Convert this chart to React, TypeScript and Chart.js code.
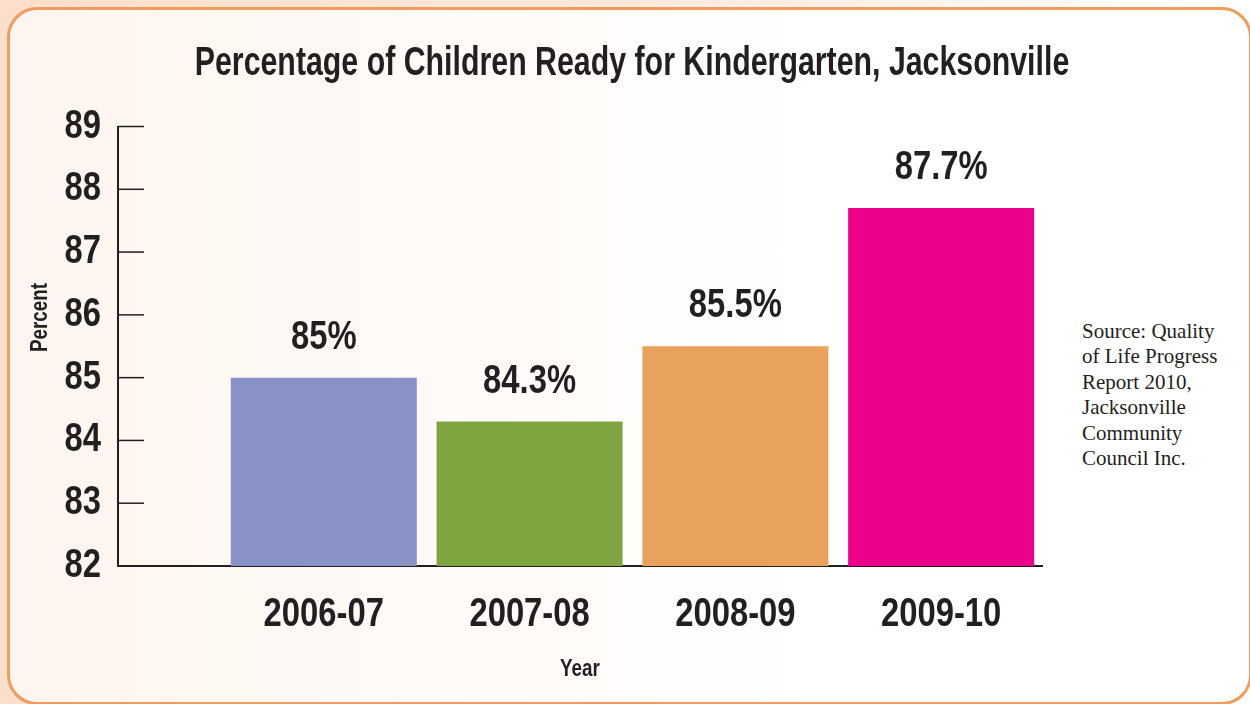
import React, { useEffect, useRef } from 'react';
import { Chart, registerables } from 'chart.js';

Chart.register(...registerables);

const categories = ['2006-07', '2007-08', '2008-09', '2009-10'];
const values = [85, 84.3, 85.5, 87.7];
const barColors = ['#8892c6', '#7fa540', '#e9a25b', '#ec008c'];
const yTicks = [82, 83, 84, 85, 86, 87, 88, 89];
const titleText = 'Percentage of Children Ready for Kindergarten, Jacksonville';
const xTitle = 'Year';
const yTitle = 'Percent';
const sourceLines = ['Source: Quality', 'of Life Progress', 'Report 2010,', 'Jacksonville', 'Community', 'Council Inc.'];

const FONT = "'Liberation Sans', Arial, sans-serif";
const INK = '#231f20';

// horizontal compression applied to text to mimic a condensed typeface
let stretch = 0.82;

function condenseText(ctx: any) {
  if (ctx.__condensed) return;
  ctx.__condensed = true;
  const orig = ctx.fillText.bind(ctx);
  ctx.fillText = (text: string, x: number, y: number, maxWidth?: number) => {
    ctx.save();
    ctx.translate(x, y);
    ctx.scale(stretch, 1);
    if (maxWidth === undefined) orig(text, 0, 0);
    else orig(text, 0, 0, maxWidth / stretch);
    ctx.restore();
  };
}

const decorPlugin = {
  id: 'decor',
  afterDraw(chart: any) {
    const { ctx, chartArea, scales } = chart;
    const y = scales.y;
    ctx.save();
    // y tick marks drawn inward
    ctx.strokeStyle = INK;
    ctx.lineWidth = 1.5;
    yTicks.forEach((v) => {
      if (v === y.min) return;
      const py = y.getPixelForValue(v);
      ctx.beginPath();
      ctx.moveTo(chartArea.left, py);
      ctx.lineTo(chartArea.left + 26, py);
      ctx.stroke();
    });
    // value labels above bars
    const meta = chart.getDatasetMeta(0);
    ctx.fillStyle = INK;
    ctx.font = `bold 40px ${FONT}`;
    ctx.textAlign = 'center';
    ctx.textBaseline = 'alphabetic';
    meta.data.forEach((bar: any, i: number) => {
      ctx.fillText(`${values[i]}%`, bar.x, bar.y - 29);
    });
    // main title
    stretch = 0.758;
    ctx.font = `bold 40px ${FONT}`;
    ctx.textBaseline = 'middle';
    ctx.fillText(titleText, 632, 64);
    stretch = 0.82;
    // y axis title
    ctx.translate(41, 317.5);
    ctx.rotate(-Math.PI / 2);
    ctx.font = `bold 23px ${FONT}`;
    ctx.fillText(yTitle, 0, 0);
    ctx.restore();
  },
};

export default function App() {
  const canvasRef = useRef<HTMLCanvasElement | null>(null);

  useEffect(() => {
    const canvas = canvasRef.current;
    if (!canvas) return;
    condenseText(canvas.getContext('2d'));
    const chart = new Chart(canvas, {
      type: 'bar',
      data: {
        datasets: [
          {
            data: values.map((v, i) => ({ x: i, y: v })),
            backgroundColor: barColors,
            borderWidth: 0,
            categoryPercentage: 0.904,
            barPercentage: 1,
          } as any,
        ],
      },
      options: {
        animation: false,
        responsive: true,
        maintainAspectRatio: false,
        layout: { padding: { top: 126.5, right: 208, bottom: 0, left: 0 } },
        plugins: {
          legend: { display: false },
          tooltip: { enabled: false },
          title: { display: false },
        },
        scales: {
          x: {
            type: 'linear',
            min: -1,
            max: 3.49,
            offset: false,
            z: 1,
            afterBuildTicks: (s: any) => {
              s.ticks = categories.map((_, i) => ({ value: i }));
            },
            afterFit: (s: any) => {
              s.height = 138;
            },
            ticks: {
              callback: (v: any) => categories[v] ?? '',
              font: { family: FONT, size: 40, weight: 'bold' },
              color: INK,
              padding: 25,
              maxRotation: 0,
              autoSkip: false,
            },
            grid: { drawOnChartArea: false, drawTicks: false },
            border: { color: INK, width: 2 },
            title: {
              display: true,
              text: xTitle,
              font: { family: FONT, size: 23, weight: 'bold' },
              color: INK,
              padding: { top: 0, bottom: 21 },
            },
          },
          y: {
            min: 82,
            max: 89,
            beginAtZero: false,
            afterBuildTicks: (s: any) => {
              s.ticks = yTicks.map((v) => ({ value: v }));
            },
            afterFit: (s: any) => {
              s.width = 118;
            },
            ticks: {
              font: { family: FONT, size: 40, weight: 'bold' },
              color: INK,
              padding: 17,
            },
            grid: { drawOnChartArea: false, drawTicks: false },
            border: { color: INK, width: 2 },
          },
        } as any,
      },
      plugins: [decorPlugin],
    });
    return () => chart.destroy();
  }, []);

  return (
    <div
      style={{
        position: 'fixed',
        left: 0,
        top: 0,
        width: 1250,
        height: 704,
        overflow: 'hidden',
        background: 'linear-gradient(to right, #fcdfca 0%, #fde9da 50%, #ffffff 100%)',
      }}
    >
      <div
        style={{
          position: 'absolute',
          left: 7,
          top: 7,
          width: 1245,
          height: 698,
          boxSizing: 'border-box',
          border: '3px solid #f29b5e',
          borderRadius: 30,
          background: 'linear-gradient(to right, #fdf5ef 0%, #fffbf8 40%, #ffffff 65%)',
        }}
      />
      <div
        style={{
          position: 'absolute',
          left: 1082,
          top: 319,
          fontFamily: "'Liberation Serif', 'DejaVu Serif', serif",
          fontSize: 21,
          lineHeight: '25.4px',
          color: INK,
          whiteSpace: 'nowrap',
        }}
      >
        {sourceLines.map((l) => (
          <div key={l}>{l}</div>
        ))}
      </div>
      <div style={{ position: 'absolute', left: 0, top: 0, width: 1250, height: 704 }}>
        <canvas ref={canvasRef} />
      </div>
    </div>
  );
}
